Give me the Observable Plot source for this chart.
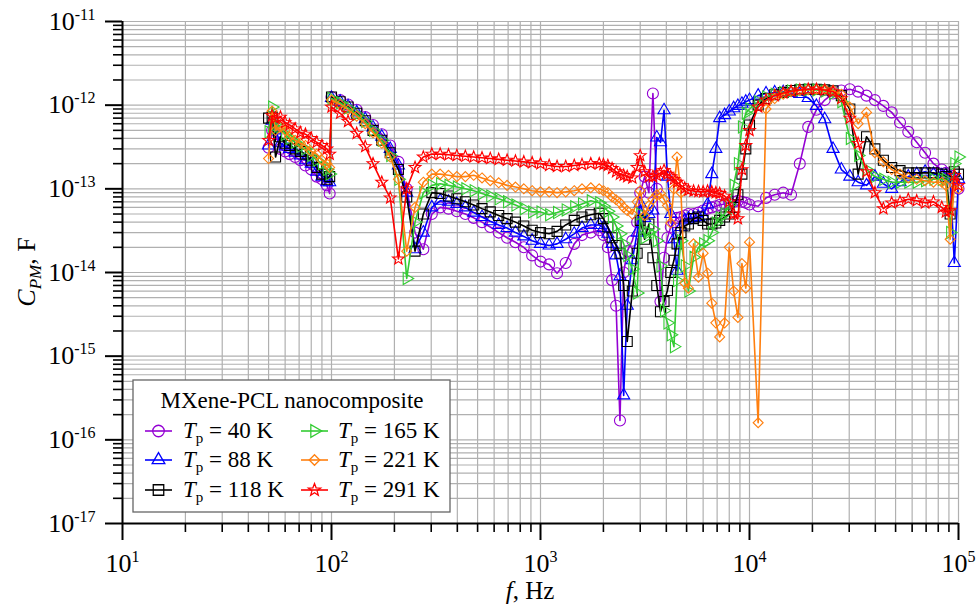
<!DOCTYPE html>
<html><head><meta charset="utf-8">
<script src="https://cdn.jsdelivr.net/npm/d3@7"></script>
<script src="https://cdn.jsdelivr.net/npm/@observablehq/plot@0.6"></script>
<style>html,body{margin:0;padding:0;background:#fff;}#chart{width:976px;height:606px;}</style>
</head><body><div id="chart"></div>
<script>
// Frequencies (Hz)
const freq = [50, 52, 54, 57, 60, 63, 67, 71, 75, 80, 85, 90, 95, 98,
 100, 110, 120, 132, 145, 158, 174, 191, 209, 229, 251, 275, 302, 331, 363, 398, 437, 479, 525, 575, 631, 692, 759, 832, 912,
 1000, 1100, 1200, 1320, 1450, 1580, 1740, 1910, 2000, 2100, 2200, 2300, 2400, 2500, 2600, 2750, 2900, 3000, 3150, 3300, 3450, 3600, 3750, 3900, 4050, 4200, 4350, 4500, 4700, 4900, 5100, 5400, 5700, 6000, 6300, 6600, 6900, 7200, 7600, 8000, 8400, 8800, 9200, 9600,
 10000, 11000, 12000, 13200, 14500, 15800, 17400, 19100, 20900, 22900, 25100, 27500, 30200, 33100, 36300, 39800, 43700, 47900, 52500, 57500, 63100, 69200, 75900, 83200, 87000, 91200, 95500, 100000];

// C_PM values in pF (1e-12 F)
const c40 = [0.31, 0.5, 0.45, 0.3, 0.28, 0.26, 0.24, 0.22, 0.19, 0.17, 0.14, 0.13, 0.11, 0.088,
 1.25, 1.15, 1.02, 0.88, 0.72, 0.58, 0.45, 0.33, 0.21, 0.1, 0.03, 0.019, 0.05, 0.06, 0.058, 0.054, 0.05, 0.045, 0.04, 0.035, 0.03, 0.026, 0.023, 0.02, 0.016,
 0.0135, 0.0125, 0.0098, 0.013, 0.022, 0.028, 0.03, 0.032, 0.028, 0.02, 0.0081, 0.004, 0.00017, 0.01, 0.018, 0.024, 0.04, 0.09, 0.14, 0.09, 1.38, 0.1, 0.0045, 0.015, 0.026, 0.035, 0.04, 0.045, 0.046, 0.048, 0.05, 0.05, 0.052, 0.055, 0.058, 0.06, 0.062, 0.064, 0.066, 0.068, 0.07, 0.072, 0.07, 0.068,
 0.065, 0.062, 0.078, 0.085, 0.09, 0.085, 0.2, 0.55, 0.88, 1.15, 1.38, 1.5, 1.55, 1.45, 1.3, 1.15, 0.98, 0.82, 0.62, 0.48, 0.36, 0.27, 0.2, 0.17, 0.155, 0.145, 0.12, 0.1];

const c88 = [0.33, 0.65, 0.5, 0.35, 0.32, 0.3, 0.27, 0.25, 0.22, 0.2, 0.16, 0.14, 0.12, 0.12,
 1.22, 1.1, 0.97, 0.82, 0.68, 0.54, 0.42, 0.3, 0.19, 0.09, 0.019, 0.03, 0.06, 0.072, 0.07, 0.066, 0.06, 0.052, 0.046, 0.041, 0.037, 0.034, 0.03, 0.027, 0.024,
 0.022, 0.021, 0.022, 0.025, 0.029, 0.034, 0.037, 0.037, 0.034, 0.029, 0.022, 0.016, 0.009, 0.00034, 0.004, 0.014, 0.03, 0.067, 0.045, 0.05, 0.055, 0.41, 0.36, 0.87, 0.14, 0.05, 0.025, 0.0105, 0.035, 0.042, 0.044, 0.045, 0.046, 0.047, 0.065, 0.15, 0.3, 0.7, 0.76, 0.84, 0.92, 0.98, 1.04, 1.1,
 1.15, 1.3, 1.38, 1.42, 1.43, 1.4, 1.36, 1.22, 0.98, 0.68, 0.3, 0.17, 0.14, 0.12, 0.11, 0.14, 0.115, 0.1, 0.12, 0.14, 0.15, 0.16, 0.15, 0.145, 0.145, 0.14, 0.013, 0.13];

const c118 = [0.7, 0.72, 0.24, 0.42, 0.35, 0.33, 0.3, 0.28, 0.26, 0.22, 0.18, 0.15, 0.13, 0.14,
 1.25, 1.1, 0.95, 0.8, 0.65, 0.5, 0.38, 0.27, 0.17, 0.08, 0.018, 0.05, 0.09, 0.088, 0.082, 0.076, 0.07, 0.064, 0.058, 0.053, 0.048, 0.044, 0.04, 0.036, 0.032,
 0.03, 0.029, 0.031, 0.037, 0.042, 0.046, 0.049, 0.051, 0.044, 0.035, 0.026, 0.021, 0.017, 0.007, 0.0015, 0.006, 0.017, 0.042, 0.025, 0.038, 0.015, 0.007, 0.0034, 0.0045, 0.0061, 0.01, 0.014, 0.022, 0.03, 0.036, 0.038, 0.044, 0.046, 0.042, 0.038, 0.038, 0.039, 0.042, 0.046, 0.05, 0.06, 0.085, 0.15, 0.3,
 0.58, 1.0, 1.2, 1.33, 1.42, 1.5, 1.53, 1.55, 1.55, 1.53, 1.48, 1.3, 0.9, 0.15, 0.42, 0.3, 0.22, 0.18, 0.165, 0.155, 0.155, 0.155, 0.155, 0.15, 0.14, 0.05, 0.16, 0.15];

const c165 = [0.48, 0.95, 0.6, 0.55, 0.45, 0.4, 0.36, 0.32, 0.3, 0.25, 0.22, 0.2, 0.17, 0.15,
 1.2, 1.07, 0.93, 0.78, 0.64, 0.5, 0.38, 0.25, 0.13, 0.0085, 0.04, 0.09, 0.11, 0.115, 0.11, 0.105, 0.1, 0.095, 0.088, 0.082, 0.076, 0.07, 0.064, 0.058, 0.053,
 0.053, 0.049, 0.052, 0.056, 0.061, 0.066, 0.072, 0.068, 0.062, 0.054, 0.046, 0.036, 0.029, 0.022, 0.016, 0.011, 0.0057, 0.05, 0.026, 0.03, 0.033, 0.024, 0.012, 0.0035, 0.0025, 0.0018, 0.0013, 0.008, 0.024, 0.012, 0.006, 0.0152, 0.02, 0.022, 0.024, 0.03, 0.039, 0.045, 0.05, 0.065, 0.11, 0.2, 0.55, 0.8,
 0.9, 1.1, 1.25, 1.35, 1.42, 1.48, 1.52, 1.53, 1.52, 1.48, 1.38, 1.1, 0.4, 0.25, 0.17, 0.14, 0.13, 0.12, 0.12, 0.12, 0.12, 0.125, 0.13, 0.13, 0.13, 0.03, 0.2, 0.24];

const c221 = [0.23, 0.85, 0.5, 0.55, 0.5, 0.42, 0.38, 0.35, 0.33, 0.28, 0.26, 0.22, 0.2, 0.18,
 1.15, 1.02, 0.88, 0.74, 0.6, 0.47, 0.35, 0.24, 0.13, 0.018, 0.06, 0.12, 0.15, 0.15, 0.145, 0.14, 0.14, 0.145, 0.135, 0.125, 0.118, 0.11, 0.105, 0.1, 0.095,
 0.092, 0.092, 0.09, 0.092, 0.095, 0.1, 0.103, 0.1, 0.095, 0.09, 0.08, 0.074, 0.068, 0.06, 0.055, 0.05, 0.07, 0.095, 0.048, 0.063, 0.075, 0.085, 0.088, 0.075, 0.063, 0.039, 0.1, 0.24, 0.09, 0.0075, 0.0065, 0.022, 0.0088, 0.017, 0.0098, 0.0043, 0.0025, 0.0017, 0.0025, 0.02, 0.006, 0.0029, 0.0128, 0.0065,
 0.023, 0.00016, 0.9, 1.2, 1.35, 1.45, 1.5, 1.53, 1.55, 1.55, 1.5, 1.35, 0.95, 0.6, 0.82, 0.27, 0.21, 0.17, 0.15, 0.135, 0.13, 0.125, 0.12, 0.12, 0.11, 0.025, 0.11, 0.1];

const c291 = [0.38, 0.75, 0.7, 0.72, 0.62, 0.58, 0.52, 0.47, 0.45, 0.4, 0.36, 0.33, 0.3, 0.26,
 0.95, 0.8, 0.64, 0.46, 0.32, 0.2, 0.12, 0.078, 0.0145, 0.1, 0.18, 0.24, 0.26, 0.26, 0.255, 0.25, 0.245, 0.24, 0.235, 0.23, 0.225, 0.22, 0.215, 0.21, 0.205,
 0.2, 0.19, 0.185, 0.185, 0.19, 0.195, 0.2, 0.2, 0.195, 0.19, 0.175, 0.16, 0.15, 0.145, 0.14, 0.135, 0.18, 0.25, 0.16, 0.14, 0.14, 0.145, 0.155, 0.166, 0.15, 0.14, 0.13, 0.12, 0.11, 0.102, 0.096, 0.094, 0.093, 0.092, 0.094, 0.092, 0.09, 0.088, 0.082, 0.07, 0.05, 0.044, 0.17, 0.33,
 0.5, 0.95, 1.15, 1.3, 1.4, 1.47, 1.52, 1.55, 1.55, 1.52, 1.45, 1.2, 0.7, 0.35, 0.16, 0.09, 0.058, 0.068, 0.07, 0.075, 0.072, 0.068, 0.07, 0.06, 0.053, 0.055, 0.145, 0.11];

const temps = [40, 88, 118, 165, 221, 291];
const seriesValues = [c40, c88, c118, c165, c221, c291];
const colors = ["#9400d3", "#0000ff", "#000000", "#33cc33", "#ff7f0e", "#ff0000"];

// Axis ticks
const xMajor = [10, 100, 1000, 10000, 100000];
const yMajor = [1e-17, 1e-16, 1e-15, 1e-14, 1e-13, 1e-12, 1e-11];
const mult = [2, 3, 4, 5, 6, 7, 8, 9];
const xMinor = xMajor.slice(0, -1).flatMap(d => mult.map(m => d * m));
const yMinor = yMajor.slice(0, -1).flatMap(d => mult.map(m => d * m));
const xGrid = xMajor.concat(xMinor), yGrid = yMajor.concat(yMinor);

// Marker shapes (size -> half extent r)
function shape(fn) { return { draw(ctx, size) { fn(ctx, Math.sqrt(size / Math.PI)); } }; }
function poly(ctx, pts) { ctx.moveTo(pts[0][0], pts[0][1]); for (let i = 1; i < pts.length; i++) ctx.lineTo(pts[i][0], pts[i][1]); ctx.closePath(); }
const sCircle = shape((c, r) => { c.moveTo(r, 0); c.arc(0, 0, r, 0, 2 * Math.PI); });
const sTriUp = shape((c, r) => poly(c, [[0, -r], [r * 0.866, r * 0.5], [-r * 0.866, r * 0.5]]));
const sSquare = shape((c, r) => poly(c, [[-r, -r], [r, -r], [r, r], [-r, r]]));
const sTriRight = shape((c, r) => poly(c, [[r, 0], [-r * 0.5, r * 0.866], [-r * 0.5, -r * 0.866]]));
const sDiamond = shape((c, r) => poly(c, [[0, -r], [r, 0], [0, r], [-r, 0]]));
const sStar = shape((c, r) => { const p = []; for (let i = 0; i < 10; i++) { const a = -Math.PI / 2 + i * Math.PI / 5; const rr = i % 2 ? r * 0.42 : r; p.push([rr * Math.cos(a), rr * Math.sin(a)]); } poly(c, p); });
const symbols = [sCircle, sTriUp, sSquare, sTriRight, sDiamond, sStar];
const radii = [5.5, 7, 5, 7, 5, 6.2];

const FONT = "'Liberation Serif', 'Times New Roman', serif";

const seriesMarks = seriesValues.flatMap((vals, k) => {
  const rows = freq.map((f, i) => ({ f, C: vals[i] * 1e-12 }));
  return [
    Plot.line(rows, { x: "f", y: "C", stroke: colors[k], strokeWidth: 1.6 }),
    Plot.dot(rows, { x: "f", y: "C", stroke: colors[k], fill: "none", strokeWidth: 1.1, r: radii[k], symbol: symbols[k] })
  ];
});

const svg = Plot.plot({
  width: 976, height: 606,
  marginLeft: 122, marginRight: 18, marginTop: 21, marginBottom: 83,
  x: { type: "log", domain: [10, 1e5] },
  y: { type: "log", domain: [1e-17, 1e-11] },
  style: { fontFamily: FONT, color: "black", background: "white" },
  marks: [
    Plot.gridX(xGrid, { stroke: "#b0b0b0", strokeOpacity: 1, strokeWidth: 1.2 }),
    Plot.gridY(yGrid, { stroke: "#b0b0b0", strokeOpacity: 1, strokeWidth: 1.2 }),
    Plot.axisX(xMajor, { tickSize: 17, tickPadding: 13, strokeWidth: 2, fontSize: 26, label: null, tickFormat: d => "10^" + Math.round(Math.log10(d)) }),
    Plot.axisX(xMinor, { tickSize: 9, strokeWidth: 1.6, label: null, tickFormat: () => "" }),
    Plot.axisY(yMajor, { tickSize: 17, tickPadding: 10, strokeWidth: 2, fontSize: 26, label: null, tickFormat: d => "10^" + Math.round(Math.log10(d)) }),
    Plot.axisY(yMinor, { tickSize: 9, strokeWidth: 1.6, label: null, tickFormat: () => "" }),
    Plot.ruleX([10], { stroke: "black", strokeWidth: 2 }),
    Plot.ruleY([1e-17], { stroke: "black", strokeWidth: 2 }),
    ...seriesMarks
  ]
});
document.getElementById("chart").appendChild(svg);

// superscript exponents in tick labels
const NS = "http://www.w3.org/2000/svg";
svg.querySelectorAll("text").forEach(t => {
  const m = t.textContent.match(/^10\^(-?\d+)$/);
  if (m) {
    t.textContent = "10";
    const ts = document.createElementNS(NS, "tspan");
    ts.setAttribute("dy", "-10");
    ts.setAttribute("font-size", "16");
    ts.textContent = m[1];
    t.appendChild(ts);
  }
});

const S = d3.select(svg);
// axis titles
const yl = S.append("text").attr("transform", "translate(35,272) rotate(-90)").attr("text-anchor", "middle")
  .attr("font-family", FONT).attr("font-size", 26).attr("fill", "black");
yl.append("tspan").attr("font-style", "italic").text("C");
yl.append("tspan").attr("font-style", "italic").attr("font-size", 17).attr("dy", 6).text("PM");
yl.append("tspan").attr("dy", -6).text(", F");
const xl = S.append("text").attr("x", 530).attr("y", 599).attr("text-anchor", "middle")
  .attr("font-family", FONT).attr("font-size", 25).attr("fill", "black");
xl.append("tspan").attr("font-style", "italic").text("f");
xl.append("tspan").text(", Hz");

// legend
const lg = S.append("g").attr("font-family", FONT).attr("fill", "black").attr("text-anchor", "start");
lg.append("rect").attr("x", 133).attr("y", 380).attr("width", 317).attr("height", 132)
  .attr("fill", "white").attr("stroke", "#666").attr("stroke-width", 1.3);
lg.append("text").attr("x", 292).attr("y", 408).attr("text-anchor", "middle").attr("font-size", 23).text("MXene-PCL nanocomposite");
const colX = [158.5, 314.5], textX = [183, 338], rowY = [438, 467, 497];
temps.forEach((T, k) => {
  const col = Math.floor(k / 3), row = k % 3;
  const cx = colX[col], cy = rowY[row] - 7;
  lg.append("line").attr("x1", cx - 13.5).attr("x2", cx + 13.5).attr("y1", cy).attr("y2", cy)
    .attr("stroke", colors[k]).attr("stroke-width", 1.6);
  lg.append("path").attr("d", d3.symbol().type(symbols[k]).size(Math.PI * radii[k] * radii[k] * 1.1)())
    .attr("transform", `translate(${cx},${cy})`).attr("fill", "none").attr("stroke", colors[k]).attr("stroke-width", 1.3);
  const t = lg.append("text").attr("x", textX[col]).attr("y", rowY[row]).attr("font-size", 23).attr("text-anchor", "start");
  t.append("tspan").attr("font-style", "italic").text("T");
  t.append("tspan").attr("font-size", 15).attr("dy", 5).text("p");
  t.append("tspan").attr("dy", -5).text(` = ${T} K`);
});
</script></body></html>
